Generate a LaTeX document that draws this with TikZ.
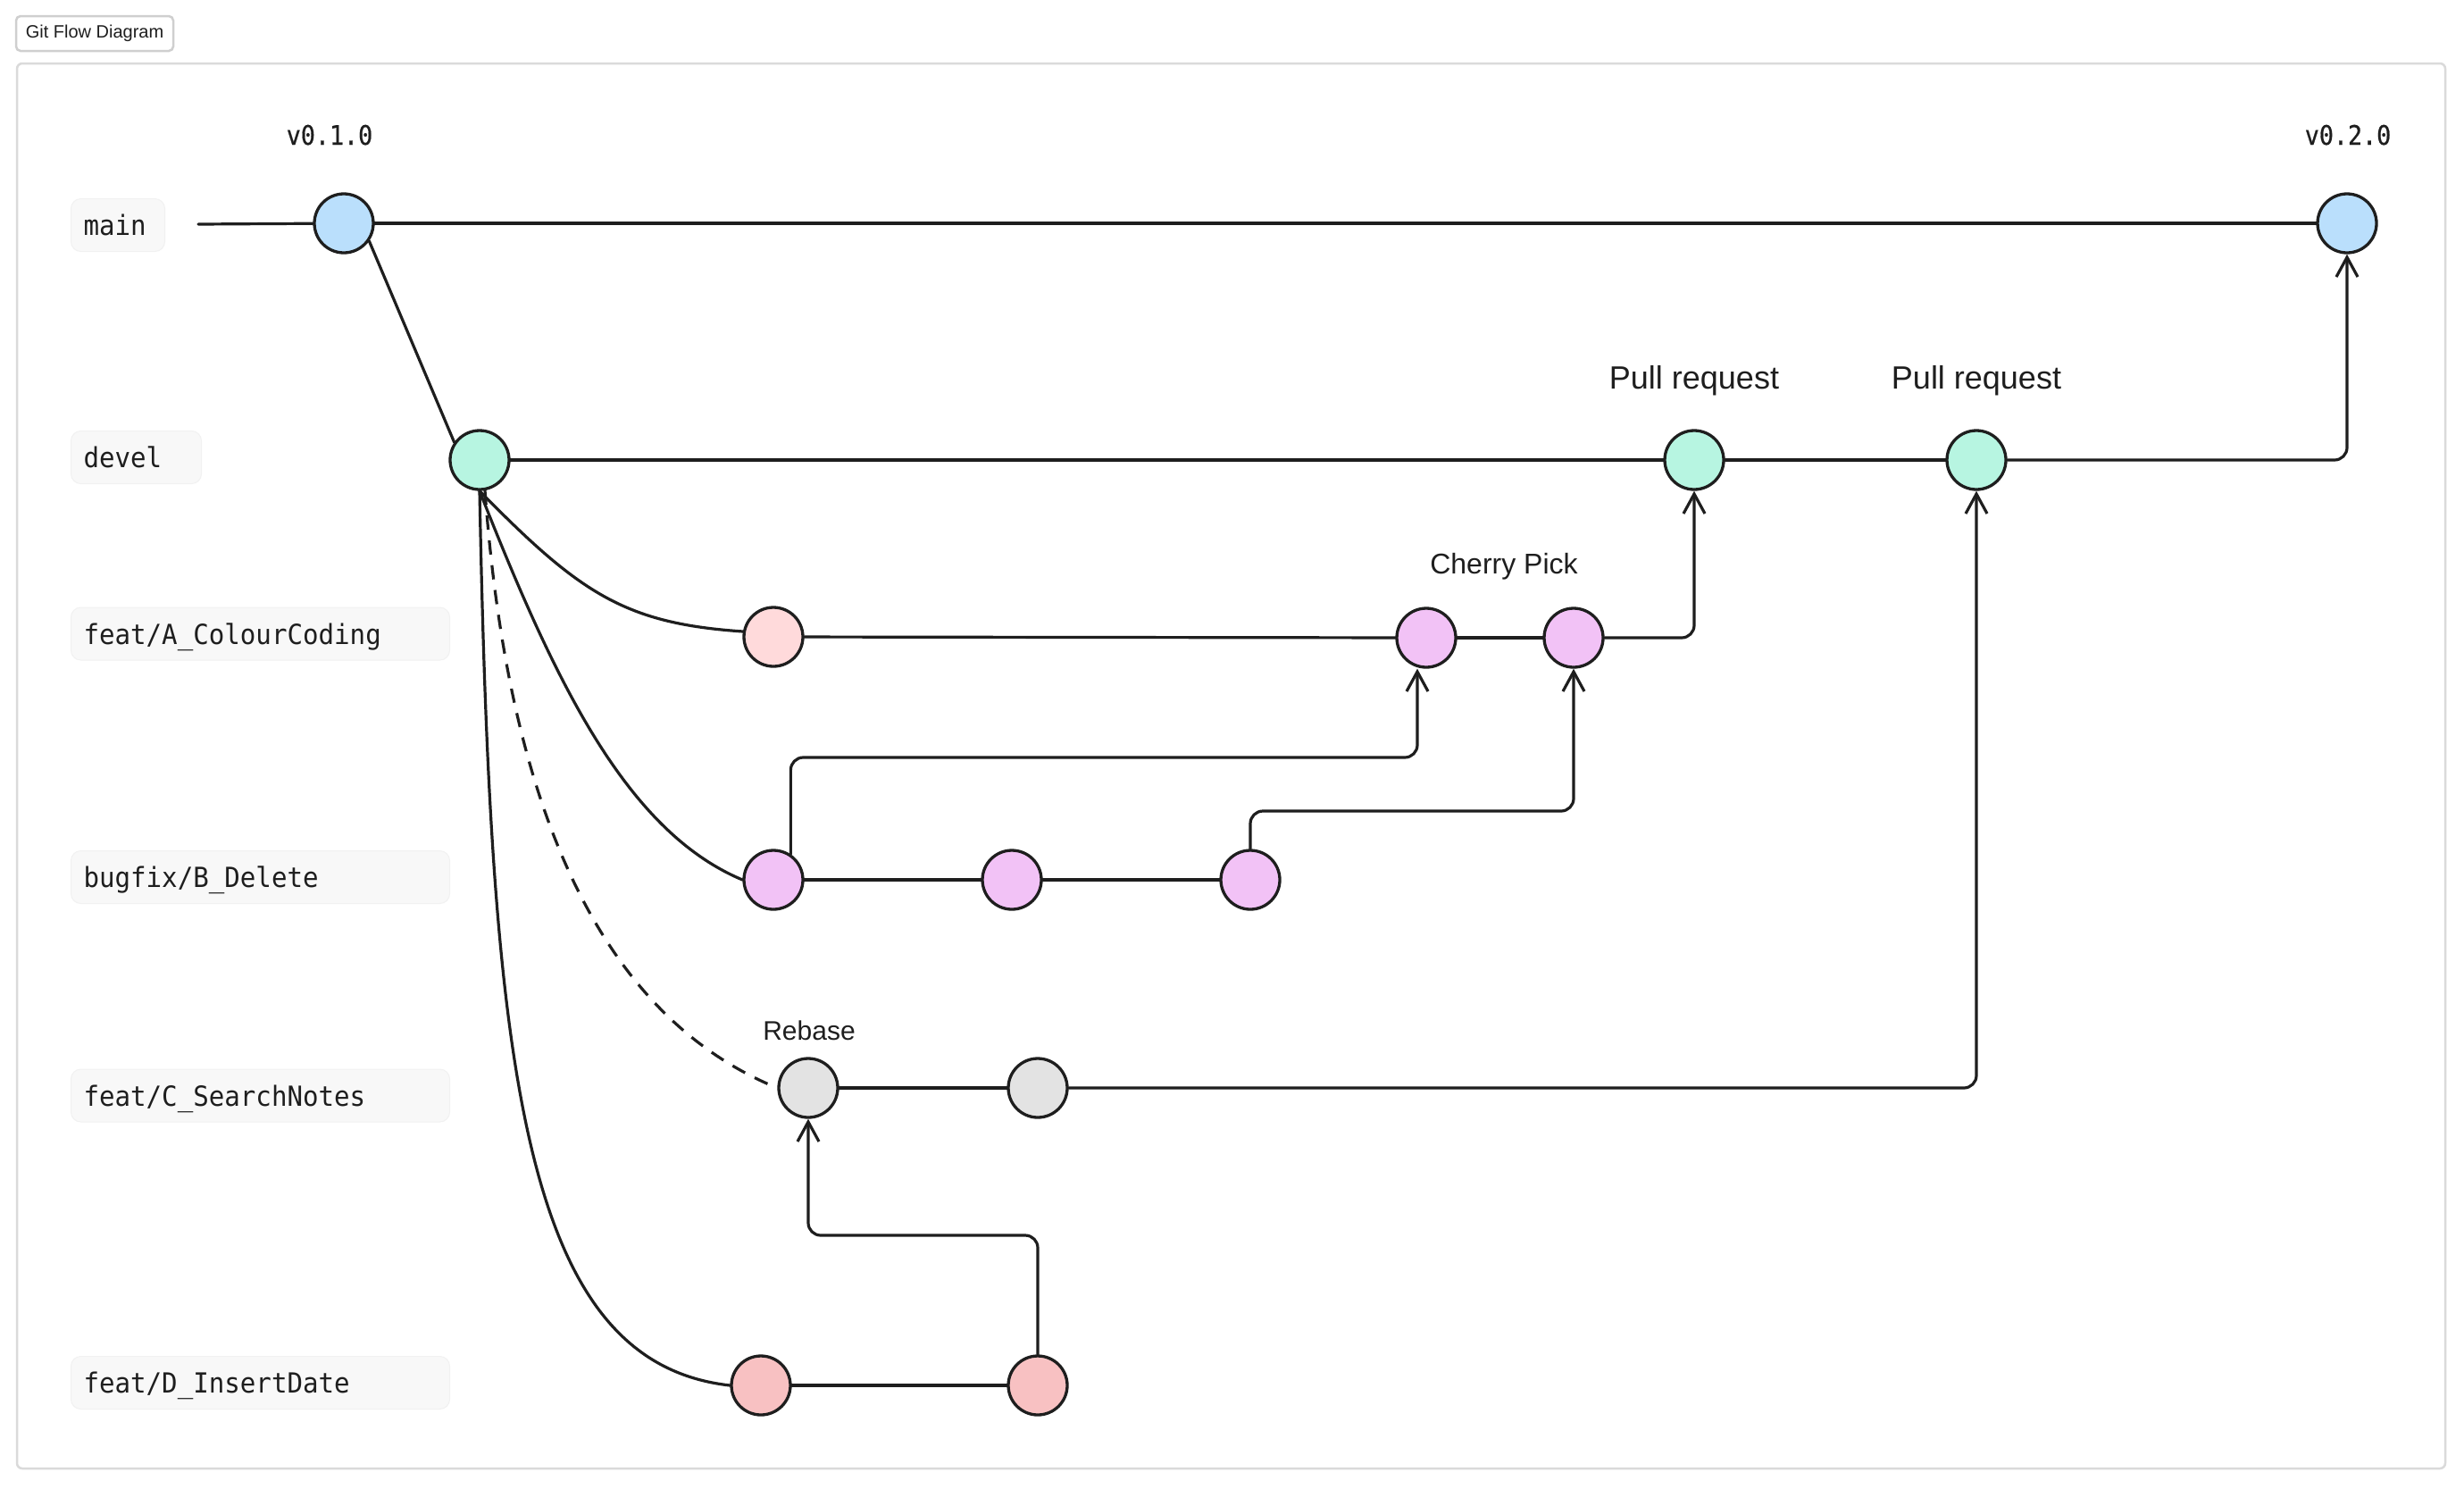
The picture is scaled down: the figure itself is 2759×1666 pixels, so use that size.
\documentclass[tikz,border=0pt]{standalone}
\usepackage{fontspec}
\setmainfont{Liberation Sans}
\newfontfamily\monofont[FakeStretch=0.94]{DejaVu Sans Mono}
\newfontfamily\tagfont[FakeStretch=0.89,FakeBold=0.6]{DejaVu Sans Mono}
\usetikzlibrary{arrows.meta}

\definecolor{ink}{HTML}{1E1E1E}
\definecolor{mainblue}{HTML}{BADFFC}
\definecolor{develmint}{HTML}{B7F5E1}
\definecolor{featpink}{HTML}{FFDADB}
\definecolor{fixviolet}{HTML}{F2C2F6}
\definecolor{searchgray}{HTML}{E3E3E3}
\definecolor{daterose}{HTML}{F8C1C2}
\definecolor{lblfill}{HTML}{F8F8F8}
\definecolor{lbledge}{HTML}{F1F1F1}
\definecolor{framegray}{HTML}{DADADA}
\definecolor{btnedge}{HTML}{CFCFCF}

\begin{document}
\begin{tikzpicture}[x=1pt,y=-1pt,
  commit/.style={circle, draw=ink, line width=3.3pt, minimum size=66pt, inner sep=0pt},
  link/.style={draw=ink, line width=3.2pt, line cap=round, line join=round},
  jump/.style={link, rounded corners=14pt, -{Straight Barb[length=22pt,width=24pt]}},
  branch/.style={fill=lblfill, draw=lbledge, line width=1pt, rounded corners=11pt,
    anchor=west, minimum height=59pt, text height=23pt, text depth=0pt,
    inner xsep=14pt, inner ysep=0pt, align=left,
    font=\monofont\fontsize{31}{36}\selectfont, text=ink},
  tag/.style={font=\tagfont\fontsize{30}{34}\selectfont, text=ink, anchor=base, inner sep=0pt},
  note/.style={text=ink, anchor=base, inner sep=0pt}
]
% canvas and frame
\fill[white] (0,0) rectangle (2759,1666);
\useasboundingbox (0,0) rectangle (2759,1666);
\draw[framegray, line width=2.5pt, rounded corners=6pt] (19,71) rectangle (2738,1644);
\node[draw=btnedge, line width=2.5pt, rounded corners=5pt, fill=white,
  minimum width=176pt, minimum height=39pt, inner sep=0pt,
  font=\fontsize{20}{24}\selectfont, text=ink] (title) at (106,37.5) {Git Flow Diagram};

% branch labels
\node[branch, text width=77pt]  (lmain)  at (79,252)    {main};
\node[branch, text width=118pt] (ldevel) at (79,512)    {devel};
\node[branch, text width=396pt] (lfeatA) at (79,709.5)  {feat/A\_ColourCoding};
\node[branch, text width=396pt] (lfixB)  at (79,982)    {bugfix/B\_Delete};
\node[branch, text width=396pt] (lfeatC) at (79,1226.5) {feat/C\_SearchNotes};
\node[branch, text width=396pt] (lfeatD) at (79,1548)   {feat/D\_InsertDate};

% commits
\node[commit, fill=mainblue]   (m1) at (385,250) {};
\node[commit, fill=mainblue]   (m2) at (2628,250) {};
\node[commit, fill=develmint]  (d1) at (537,515) {};
\node[commit, fill=develmint]  (d2) at (1897,515) {};
\node[commit, fill=develmint]  (d3) at (2213,515) {};
\node[commit, fill=featpink]   (a1) at (866,713) {};
\node[commit, fill=fixviolet]  (a2) at (1597,714) {};
\node[commit, fill=fixviolet]  (a3) at (1762,714) {};
\node[commit, fill=fixviolet]  (b1) at (866,985) {};
\node[commit, fill=fixviolet]  (b2) at (1133,985) {};
\node[commit, fill=fixviolet]  (b3) at (1400,985) {};
\node[commit, fill=searchgray] (c1) at (905,1218) {};
\node[commit, fill=searchgray] (c2) at (1162,1218) {};
\node[commit, fill=daterose]   (e1) at (852,1551) {};
\node[commit, fill=daterose]   (e2) at (1162,1551) {};

% tags and annotations
\node[tag] (v1) at (369,162) {v0.1.0};
\node[tag] (v2) at (2629,162) {v0.2.0};
\node[note, font=\fontsize{36}{40}\selectfont] (pr1) at (1897,435) {Pull request};
\node[note, font=\fontsize{36}{40}\selectfont] (pr2) at (2213,435) {Pull request};
\node[note, font=\fontsize{32}{38}\selectfont] (cherry) at (1684,642) {Cherry Pick};
\node[note, font=\fontsize{30}{36}\selectfont] (rebase) at (906,1164) {Rebase};

% helper levels for the routed connectors
\coordinate (mainstart) at (222,251);
\coordinate (pickA) at (0,848);
\coordinate (pickB) at (0,908);
\coordinate (rebaseY) at (0,1383);

% main and devel
\draw[link] (mainstart) -- (m1);
\draw[link] (m1) -- (m2);
\draw[link] (m1.-35) -- (d1.145);
\draw[link] (d1) -- (d2);
\draw[link] (d2) -- (d3);
\draw[jump] (d3) -| (m2);

% feature A and the cherry picks
\draw[link] (d1.south) .. controls (650,665) and (700,698) .. (a1.170);
\draw[link] (a1) -- (a2);
\draw[link] (a2) -- (a3);
\draw[jump] (a3) -| (d2);

% bugfix B
\draw[link] (d1.south) .. controls (620,760) and (700,930) .. (b1.west);
\draw[link] (b1) -- (b2);
\draw[link] (b2) -- (b3);
\draw[jump] (b1.56) -- (b1.56 |- pickA) -| ([xshift=-10pt]a2.south);
\draw[jump] (b3.north) -- (b3.north |- pickB) -| (a3.south);

% feature C, rebased
\draw[link, dash pattern=on 16pt off 12pt, line cap=butt] (d1.-80) .. controls (570,920) and (680,1140) .. (c1.west);
\draw[link] (c1) -- (c2);
\draw[jump] (c2) -| (d3);

% feature D
\draw[link] (d1.south) .. controls (550,1200) and (585,1525) .. (e1.west);
\draw[link] (e1) -- (e2);
\draw[jump] (e2.north) -- (e2.north |- rebaseY) -| (c1.south);
\end{tikzpicture}
\end{document}
